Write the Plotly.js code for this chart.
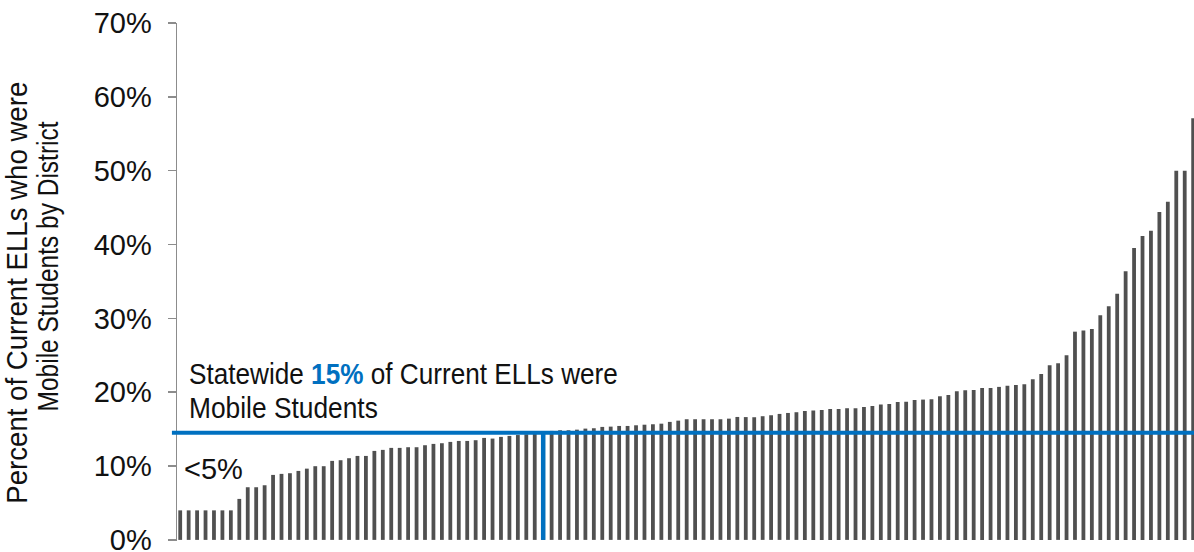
<!DOCTYPE html>
<html>
<head>
<meta charset="utf-8">
<script src="https://cdn.plot.ly/plotly-3.0.1.min.js"></script>
<style>html,body{margin:0;padding:0;background:#fff;}#chart{width:1194px;height:552px;}</style>
</head>
<body>
<div id="chart"></div>
<script>
// District rank (sorted ascending by share of mobile ELLs)
const districtRank = Array.from({length: 121}, (_, i) => i + 1);
// Percent of current ELLs who were mobile students, by district
const mobilePct = [
  4.0, 4.0, 4.0, 4.0, 4.0, 4.0, 4.0, 5.55, 7.13, 7.13,
  7.4, 8.8, 8.94, 9.03, 9.34, 9.65, 9.98, 9.98, 10.7, 10.79,
  11.06, 11.37, 11.37, 12.05, 12.19, 12.46, 12.46, 12.55, 12.55, 12.82,
  13.0, 13.09, 13.27, 13.4, 13.4, 13.5, 13.81, 13.72, 13.95, 14.08,
  14.2, 14.3, 14.4, 14.6, 14.76, 14.85, 14.85, 14.93, 15.07, 15.12,
  15.3, 15.34, 15.43, 15.43, 15.52, 15.6, 15.66, 15.74, 15.98, 16.15,
  16.34, 16.34, 16.34, 16.34, 16.34, 16.42, 16.65, 16.63, 16.61, 16.75,
  16.88, 17.06, 17.19, 17.29, 17.47, 17.51, 17.6, 17.74, 17.74, 17.83,
  17.83, 18.0, 18.14, 18.32, 18.41, 18.68, 18.72, 18.95, 19.0, 19.05,
  19.45, 19.63, 20.13, 20.27, 20.31, 20.58, 20.58, 20.72, 20.89, 20.99,
  21.08, 21.76, 22.47, 23.65, 23.92, 25.01, 28.2, 28.34, 28.57, 30.42,
  31.64, 33.35, 36.38, 39.53, 41.16, 41.88, 44.41, 45.8, 50.0, 50.0,
  57.1
];
const statewidePct = 14.5;        // position of the statewide reference line
const statewideLabel = '15%';
const statewideRank = 44;         // district where the statewide line meets the bars
const yTickVals = [0, 10, 20, 30, 40, 50, 60, 70];
const yTickText = ['0%', '10%', '20%', '30%', '40%', '50%', '60%', '70%'];

const BLUE = '#0070C0';
const sans = '"Liberation Sans", Arial, sans-serif';

// plot area geometry helpers (paper coords)
const PL = 177, PW = 1017, PB = 541, PH = 518;
const px = v => (v - PL) / PW;
const py = v => (PB - v) / PH;

const trace = {
  type: 'bar',
  x: districtRank,
  y: mobilePct,
  marker: {color: '#505050', line: {width: 0}},
  hoverinfo: 'y'
};

const layout = {
  width: 1194,
  height: 552,
  margin: {l: PL, r: 0, t: 23, b: 11, pad: 0},
  paper_bgcolor: '#ffffff',
  plot_bgcolor: '#ffffff',
  showlegend: false,
  bargap: 0.55,
  xaxis: {
    range: [0.62, 121.1],
    showgrid: false, zeroline: false, showline: false,
    showticklabels: false, ticks: ''
  },
  yaxis: {
    range: [-0.15, 70],
    tickvals: yTickVals,
    ticktext: yTickText,
    showgrid: false, zeroline: false,
    showline: true, linecolor: '#8c8c8c', linewidth: 1.5,
    ticks: 'outside', ticklen: 8, tickwidth: 1.5, tickcolor: '#8c8c8c',
    ticklabelstandoff: 10,
    ticklabeloverflow: 'allow',
    tickfont: {family: sans, size: 29, color: '#111111'}
  },
  shapes: [
    {type: 'line', xref: 'paper', yref: 'y', x0: -0.005, x1: 1, y0: statewidePct, y1: statewidePct,
     line: {color: BLUE, width: 4}},
    {type: 'line', xref: 'x', yref: 'y', x0: statewideRank, x1: statewideRank, y0: 0, y1: statewidePct,
     line: {color: BLUE, width: 4.5}}
  ],
  annotations: [
    {xref: 'paper', yref: 'paper', x: px(16), y: py(293),
     xanchor: 'center', yanchor: 'middle', textangle: -90, showarrow: false, borderpad: 0,
     text: 'Percent of Current ELLs who were', font: {family: sans, size: 30, color: '#111111'}},
    {xref: 'paper', yref: 'paper', x: px(47), y: py(266),
     xanchor: 'center', yanchor: 'middle', textangle: -90, showarrow: false, borderpad: 0,
     text: 'Mobile Students by District', font: {family: sans, size: 30, color: '#111111'}},
    {xref: 'paper', yref: 'paper', x: px(188), y: py(374),
     xanchor: 'left', yanchor: 'middle', align: 'left', showarrow: false, borderpad: 0,
     text: 'Statewide <span style="color:' + BLUE + '"><b>' + statewideLabel + '</b></span> of Current ELLs were',
     font: {family: sans, size: 29, color: '#111111'}},
    {xref: 'paper', yref: 'paper', x: px(188), y: py(408),
     xanchor: 'left', yanchor: 'middle', align: 'left', showarrow: false, borderpad: 0,
     text: 'Mobile Students', font: {family: sans, size: 29, color: '#111111'}},
    {xref: 'paper', yref: 'paper', x: px(183), y: py(468.5),
     xanchor: 'left', yanchor: 'middle', align: 'left', showarrow: false, borderpad: 0,
     text: '&lt;5%', font: {family: sans, size: 29, color: '#111111'}}
  ]
};

// The reference uses a narrow face; compress these texts to their measured lengths.
const titleLen = {0: 422, 1: 290};      // rotated axis-title lines (textLength)
const noteLen = {2: 429, 3: 189};       // statewide note lines (horizontal scale)

Plotly.newPlot('chart', [trace], layout, {displayModeBar: false, staticPlot: true}).then(gd => {
  gd.querySelectorAll('g.annotation').forEach(g => {
    const i = +g.getAttribute('data-index');
    const t = g.querySelector('text.annotation-text');
    if (!t) return;
    if (titleLen[i]) {
      t.setAttribute('textLength', titleLen[i]);
      t.setAttribute('lengthAdjust', 'spacingAndGlyphs');
    } else if (noteLen[i]) {
      const bb = t.getBBox();
      const s = noteLen[i] / bb.width;
      const x0 = bb.x;
      const prev = t.getAttribute('transform') || '';
      t.setAttribute('transform', (prev + ' translate(' + x0 + ',0) scale(' + s + ',1) translate(' + (-x0) + ',0)').trim());
    }
  });
});
</script>
</body>
</html>
